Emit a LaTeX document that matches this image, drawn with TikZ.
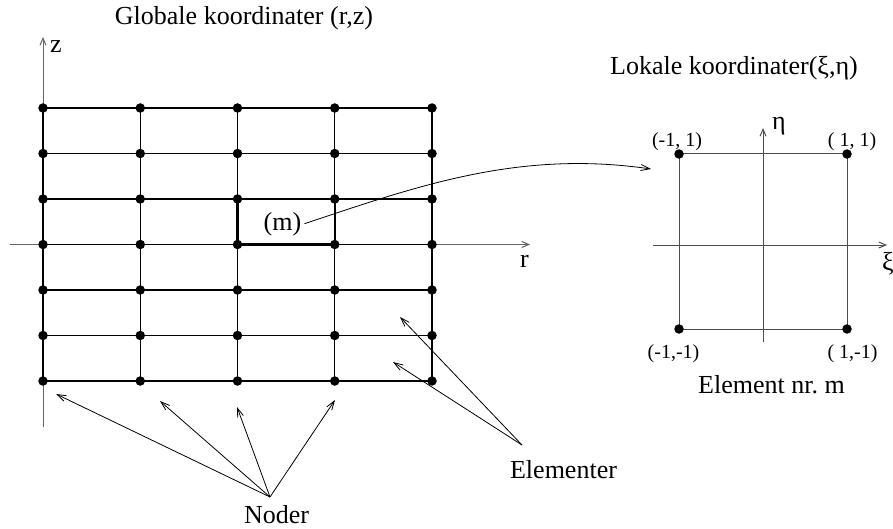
\documentclass[tikz,border=0pt]{standalone}
\usepackage{fontspec}
\setmainfont{Liberation Serif}
\usetikzlibrary{arrows.meta}
\frenchspacing
\begin{document}
\begin{tikzpicture}[x=1pt,y=-1pt,
  big/.style={font=\fontsize{26}{30}\selectfont, inner sep=0pt},
  small/.style={font=\fontsize{20}{24}\selectfont, inner sep=0pt},
  gridline/.style={black, line width=1.05pt},
  axis/.style={black!60, line width=1pt, -{Straight Barb[length=7pt,width=6pt]}},
  localline/.style={black!70, line width=1pt},
  pointer/.style={black, line width=0.8pt, -{Straight Barb[length=9pt,width=6pt]}},
  dot/.style={circle, fill=black, inner sep=0pt, minimum size=9.5pt}]

\useasboundingbox (0,0) rectangle (893,529);

% global axes
\coordinate (r0) at (10,244.5);
\coordinate (r1) at (530,244.5);
\coordinate (z0) at (43,427);
\coordinate (z1) at (43,37);
\draw[axis] (r0) -- (r1);
\draw[axis] (z0) -- (z1);

% finite element mesh
\foreach \i in {0,...,4} {
  \draw[gridline] ({43+97.25*\i},108) -- ({43+97.25*\i},381);
}
\foreach \j in {0,...,6} {
  \draw[gridline] (43,{108+45.5*\j}) -- (432,{108+45.5*\j});
}
\draw[gridline, line width=1.6pt] (43,244.5) -- (432,244.5);
% highlighted element (m)
\draw[black, line width=2.4pt] (237.5,199) rectangle (334.75,244.5);
\foreach \i in {0,...,4} {
  \foreach \j in {0,...,6} {
    \node[dot] (n-\i-\j) at ({43+97.25*\i},{108+45.5*\j}) {};
  }
}

% titles and axis labels
\node[big, anchor=base] (gtitle) at (244,25) {Globale koordinater (r,z)};
\node[big, anchor=base west] (zlab) at (50,53) {z};
\node[big, anchor=base west] (rlab) at (520,267) {r};
\node[big, anchor=base, inner sep=3pt] (m) at (282.5,230) {(m)};

% local element
\node[big, anchor=base] (ltitle) at (734,75) {Lokale koordinater(ξ,η)};
\coordinate (x0) at (653,245);
\coordinate (x1) at (887,245);
\coordinate (e0) at (763,342);
\coordinate (e1) at (763,128);
\draw[localline] (679,154) rectangle (847,329);
\draw[axis, black!70] (x0) -- (x1);
\draw[axis, black!70] (e0) -- (e1);
\node[dot] (c-tl) at (679,154) {};
\node[dot] (c-tr) at (847,154) {};
\node[dot] (c-bl) at (679,329) {};
\node[dot] (c-br) at (847,329) {};
\node[big, anchor=base west] (etalab) at (772,130) {η};
\node[big, anchor=base west] (xilab) at (882,270) {ξ};
\node[small, anchor=base] (l-tl) at (677,147) {(-1, 1)};
\node[small, anchor=base] (l-tr) at (852,147) {( 1, 1)};
\node[small, anchor=base] (l-bl) at (673.5,358) {(-1,-1)};
\node[small, anchor=base] (l-br) at (852.5,358) {( 1,-1)};
\node[big, anchor=base] (elab) at (771.5,393) {Element nr. m};

% mapping from element (m) to the local element
\coordinate (mapend) at (651,169);
\draw[pointer] (m.east) .. controls (420,185) and (520,150) .. (mapend);

% node pointers
\node[big, anchor=base] (noder) at (276.5,523) {Noder};
\coordinate (nsrc) at (270,497);
\coordinate (nt1) at (56,394);
\coordinate (nt2) at (160,401);
\coordinate (nt3) at (237,407);
\coordinate (nt4) at (335,400);
\foreach \t in {nt1,nt2,nt3,nt4} {
  \draw[pointer] (nsrc) -- (\t);
}

% element pointers
\node[big, anchor=base] (elementer) at (563.5,478) {Elementer};
\coordinate (esrc) at (522,445);
\coordinate (et1) at (400,317);
\coordinate (et2) at (393,362);
\draw[pointer] (esrc) -- (et1);
\draw[pointer] (esrc) -- (et2);
\end{tikzpicture}
\end{document}
